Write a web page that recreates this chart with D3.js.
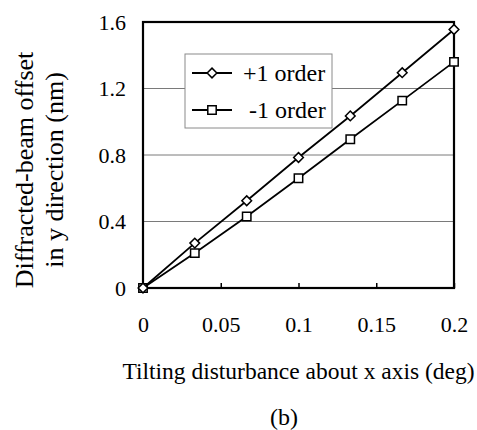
<!DOCTYPE html>
<html>
<head>
<meta charset="utf-8">
<script src="https://cdn.jsdelivr.net/npm/d3@7"></script>
<style>
  html, body { margin: 0; padding: 0; background: #fff; }
  svg { display: block; }
  svg text { font-family: "Liberation Serif", "Times New Roman", serif !important; fill: #000; }
</style>
</head>
<body>
<svg id="chart" width="477" height="430"></svg>
<script>
// Tilt angle (deg) and diffracted-beam offset (nm) for both orders
const tilt = [0, 0.0333, 0.0667, 0.1, 0.1333, 0.1667, 0.2];
const plusOrder = [0, 0.27, 0.525, 0.785, 1.035, 1.295, 1.555];
const minusOrder = [0, 0.21, 0.43, 0.66, 0.895, 1.127, 1.36];
const seriesNames = ["+1 order", "-1 order"];
const xTickValues = [0, 0.05, 0.1, 0.15, 0.2];
const xTickLabels = ["0", "0.05", "0.1", "0.15", "0.2"];
const yTickValues = [0, 0.4, 0.8, 1.2, 1.6];
const yTickLabels = ["0", "0.4", "0.8", "1.2", "1.6"];

const svg = d3.select("#chart");
const plotLeft = 143, plotRight = 454, plotTop = 22, plotBottom = 288;

const x = d3.scaleLinear().domain([0, 0.2]).range([plotLeft, plotRight]);
const y = d3.scaleLinear().domain([0, 1.6]).range([plotBottom, plotTop]);

// horizontal grid lines
svg.append("g")
  .selectAll("line")
  .data(yTickValues.filter(v => v > 0 && v < 1.6))
  .join("line")
  .attr("x1", plotLeft).attr("x2", plotRight)
  .attr("y1", d => y(d)).attr("y2", d => y(d))
  .attr("stroke", "#7a7a7a").attr("stroke-width", 1);

// x axis: ticks point inward (up)
const xAxis = d3.axisBottom(x)
  .tickValues(xTickValues)
  .tickSizeInner(-5).tickSizeOuter(0)
  .tickFormat((d, i) => xTickLabels[i]);
const gx = svg.append("g").attr("transform", `translate(0,${plotBottom})`).call(xAxis);
gx.select(".domain").remove();
gx.selectAll(".tick line").attr("stroke", "#000").attr("stroke-width", 1.5);
gx.selectAll(".tick text")
  .attr("y", 44).attr("dy", 0)
  .attr("font-size", 22);

// y axis labels
const yAxis = d3.axisLeft(y)
  .tickValues(yTickValues)
  .tickSize(0)
  .tickFormat((d, i) => yTickLabels[i]);
const gy = svg.append("g").attr("transform", `translate(${plotLeft},0)`).call(yAxis);
gy.select(".domain").remove();
gy.selectAll(".tick text")
  .attr("x", -17).attr("dy", "0.32em")
  .attr("font-size", 22);

// plot frame
svg.append("rect")
  .attr("x", plotLeft).attr("y", plotTop)
  .attr("width", plotRight - plotLeft).attr("height", plotBottom - plotTop)
  .attr("fill", "none").attr("stroke", "#000").attr("stroke-width", 2.2);

const line = d3.line().x(d => x(d[0])).y(d => y(d[1]));
const plusData = tilt.map((t, i) => [t, plusOrder[i]]);
const minusData = tilt.map((t, i) => [t, minusOrder[i]]);

const diamond = d3.symbol().type(d3.symbolDiamond2).size(60);
const square = d3.symbol().type(d3.symbolSquare2).size(90);

function drawSeries(data, sym) {
  svg.append("path").datum(data)
    .attr("d", line).attr("fill", "none")
    .attr("stroke", "#000").attr("stroke-width", 1.8);
  svg.append("g").selectAll("path").data(data).join("path")
    .attr("transform", d => `translate(${x(d[0])},${y(d[1])})`)
    .attr("d", sym)
    .attr("fill", "#fff").attr("stroke", "#000").attr("stroke-width", 1.5);
}
drawSeries(minusData, square);
drawSeries(plusData, diamond);

// legend
const lg = svg.append("g");
lg.append("rect")
  .attr("x", 185).attr("y", 54).attr("width", 147).attr("height", 74)
  .attr("fill", "#fff").attr("stroke", "#8a8a8a").attr("stroke-width", 1);
const legendItems = [
  { name: seriesNames[0], sym: diamond, cy: 73, tx: 243 },
  { name: seriesNames[1], sym: square, cy: 110, tx: 249 }
];
legendItems.forEach(it => {
  lg.append("line").attr("x1", 192).attr("x2", 232)
    .attr("y1", it.cy).attr("y2", it.cy)
    .attr("stroke", "#000").attr("stroke-width", 1.8);
  lg.append("path").attr("transform", `translate(212,${it.cy})`)
    .attr("d", it.sym).attr("fill", "#fff").attr("stroke", "#000").attr("stroke-width", 1.5);
  lg.append("text").attr("x", it.tx).attr("y", it.cy + 8)
    .attr("font-size", 24).text(it.name);
});

// axis titles
svg.append("text")
  .attr("x", (plotLeft + plotRight) / 2).attr("y", 379)
  .attr("text-anchor", "middle").attr("font-size", 23.5)
  .text("Tilting disturbance about x axis (deg)");

const yt = svg.append("text")
  .attr("transform", "translate(33,170) rotate(-90)")
  .attr("text-anchor", "middle").attr("font-size", 26);
yt.append("tspan").attr("x", 0).attr("y", 0).text("Diffracted-beam offset");
yt.append("tspan").attr("x", 0).attr("y", 30).text("in y direction (nm)");

svg.append("text")
  .attr("x", 284).attr("y", 425)
  .attr("text-anchor", "middle").attr("font-size", 24)
  .text("(b)");
</script>
</body>
</html>
